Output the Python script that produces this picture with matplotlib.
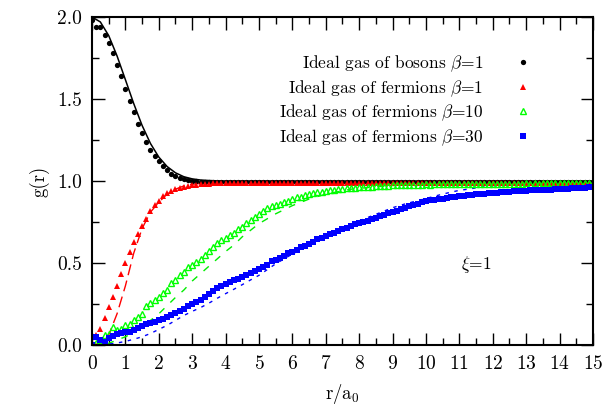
import numpy as np
import matplotlib
matplotlib.use("Agg")
import matplotlib.pyplot as plt
from matplotlib.ticker import MultipleLocator, FormatStrFormatter

plt.rcParams['font.family'] = 'cmr10'
plt.rcParams['mathtext.fontset'] = 'cm'
plt.rcParams['axes.formatter.use_mathtext'] = True

# simulation points, r/a0 = 0, 0.125, ..., 15
r_pts = np.arange(121) * 0.125

bosons_b1 = [
    1.98, 1.94, 1.94, 1.89, 1.84, 1.78, 1.71, 1.64, 1.56, 1.49, 1.42, 1.35,
    1.29, 1.24, 1.19, 1.15, 1.12, 1.09, 1.065, 1.045, 1.03, 1.02, 1.01, 1.005, 1.0,
    0.998, 0.996, 0.995, 0.996, 0.994, 0.995, 0.996, 0.995,
    0.994, 0.996, 0.995, 0.994, 0.996, 0.995, 0.994, 0.995,
    0.996, 0.995, 0.994, 0.995, 0.996, 0.994, 0.995, 0.996,
    0.995, 0.994, 0.996, 0.995, 0.995, 0.994, 0.996, 0.995,
    0.994, 0.995, 0.996, 0.995, 0.994, 0.996, 0.995, 0.994,
    0.995, 0.996, 0.994, 0.995, 0.996, 0.995, 0.994, 0.995,
    0.996, 0.995, 0.994, 0.996, 0.995, 0.994, 0.995, 0.996,
    0.995, 0.994, 0.995, 0.996, 0.995, 0.994, 0.996, 0.995,
    0.994, 0.995, 0.996, 0.995, 0.994, 0.995, 0.996, 0.995,
    0.996, 0.994, 0.995, 0.996, 0.995, 0.994, 0.995, 0.996,
    0.995, 0.996, 0.994, 0.995, 0.996, 0.995, 0.994, 0.995,
    0.996, 0.995, 0.994, 0.995, 0.996, 0.995, 0.995, 0.996,
]

fermions_b1 = [
    0.0, 0.06, 0.10, 0.165, 0.23, 0.29, 0.36, 0.43, 0.50, 0.57, 0.63, 0.675,
    0.725, 0.77, 0.815, 0.855, 0.88, 0.91, 0.925, 0.94, 0.95, 0.955, 0.965,
    0.97, 0.975, 0.978, 0.98,
    0.982, 0.984, 0.985, 0.986, 0.987, 0.986, 0.987, 0.988,
    0.987, 0.988, 0.987, 0.988, 0.989, 0.988, 0.987, 0.988,
    0.989, 0.988, 0.987, 0.988, 0.989, 0.988, 0.988, 0.987,
    0.988, 0.989, 0.988, 0.987, 0.988, 0.989, 0.988, 0.987,
    0.988, 0.988, 0.989, 0.988, 0.987, 0.988, 0.989, 0.988,
    0.987, 0.988, 0.989, 0.988, 0.988, 0.987, 0.988, 0.989,
    0.988, 0.987, 0.988, 0.989, 0.988, 0.987, 0.988, 0.988,
    0.989, 0.988, 0.987, 0.988, 0.989, 0.988, 0.987, 0.988,
    0.988, 0.989, 0.988, 0.987, 0.988, 0.989, 0.988, 0.987,
    0.988, 0.988, 0.989, 0.988, 0.987, 0.988, 0.989, 0.988,
    0.987, 0.988, 0.989, 0.988, 0.988, 0.987, 0.988, 0.989,
    0.988, 0.987, 0.988, 0.989, 0.988, 0.988,
]

fermions_b10 = [
    0.0, 0.01, 0.03, 0.06, 0.07, 0.11, 0.09, 0.10, 0.12, 0.13, 0.15, 0.17,
    0.19, 0.235, 0.255, 0.275, 0.295, 0.315, 0.335, 0.375, 0.395, 0.425,
    0.447, 0.475, 0.49, 0.505, 0.525, 0.55, 0.575, 0.60, 0.62, 0.64, 0.655,
    0.67, 0.685, 0.705, 0.72, 0.745, 0.76, 0.78, 0.80, 0.815, 0.835, 0.845,
    0.855, 0.86, 0.87, 0.88, 0.89, 0.90, 0.905, 0.912, 0.92, 0.925, 0.93,
    0.934, 0.94, 0.943, 0.946, 0.95, 0.953, 0.955, 0.957, 0.96, 0.962, 0.963,
    0.965, 0.966, 0.968, 0.97, 0.97, 0.972, 0.974, 0.975,
    0.976, 0.975, 0.977, 0.978, 0.977, 0.978, 0.979, 0.978,
    0.979, 0.98, 0.979, 0.98, 0.981, 0.98, 0.981, 0.982,
    0.981, 0.982, 0.981, 0.982, 0.983, 0.982, 0.983, 0.982,
    0.983, 0.984, 0.983, 0.984, 0.983, 0.984, 0.985, 0.984,
    0.985, 0.984, 0.985, 0.986, 0.985, 0.986, 0.985, 0.986,
    0.986, 0.987, 0.986, 0.987, 0.986, 0.987, 0.987,
]

fermions_b30 = [
    0.0, 0.05, 0.03, 0.02, 0.04, 0.055, 0.065, 0.075, 0.078, 0.082, 0.093,
    0.105, 0.113, 0.127, 0.135, 0.142, 0.15, 0.16, 0.172, 0.183, 0.195, 0.208,
    0.222, 0.235, 0.25, 0.262, 0.275, 0.29, 0.31, 0.33, 0.345, 0.36, 0.37,
    0.385, 0.395, 0.405, 0.415, 0.427, 0.44, 0.45, 0.465, 0.477, 0.49, 0.51,
    0.52, 0.528, 0.542, 0.559, 0.57, 0.582, 0.595, 0.605, 0.615, 0.63, 0.645,
    0.655, 0.665, 0.675, 0.685, 0.695, 0.705, 0.715, 0.725, 0.735, 0.742,
    0.75, 0.758, 0.766, 0.775, 0.785, 0.795, 0.802, 0.81, 0.82, 0.828, 0.835,
    0.845, 0.855, 0.862, 0.87, 0.876, 0.882, 0.886, 0.89, 0.893, 0.897, 0.9,
    0.904, 0.907, 0.91, 0.913, 0.916, 0.918, 0.92, 0.922, 0.924, 0.926, 0.928,
    0.93, 0.932, 0.934, 0.936, 0.938, 0.94, 0.942, 0.943, 0.944, 0.945, 0.946,
    0.947, 0.948, 0.949, 0.95, 0.952, 0.954, 0.955, 0.957, 0.958, 0.96, 0.961,
    0.962,
]

# analytic curves, r/a0 = 0, 0.25, ..., 15
r_line = np.arange(61) * 0.25

line_bosons = [
    2.0, 1.970, 1.887, 1.763, 1.618, 1.472, 1.339, 1.229, 1.146, 1.088, 1.050,
    1.026, 1.013, 1.006, 1.003, 1.001,
    1.0, 1.0, 1.0, 1.0, 1.0, 1.0, 1.0, 1.0, 1.0, 1.0, 1.0, 1.0, 1.0, 1.0, 1.0,
    1.0, 1.0, 1.0, 1.0, 1.0, 1.0, 1.0, 1.0, 1.0, 1.0, 1.0, 1.0, 1.0, 1.0, 1.0,
    1.0, 1.0, 1.0, 1.0, 1.0, 1.0, 1.0, 1.0, 1.0, 1.0, 1.0, 1.0, 1.0, 1.0, 1.0,
]

line_b1 = [
    0.0, 0.01, 0.06, 0.19, 0.36, 0.56, 0.71, 0.81, 0.87, 0.92, 0.95, 0.97,
    0.98, 0.985, 0.99,
    0.99, 0.99, 0.99, 0.99, 0.99, 0.99, 0.99, 0.99, 0.99, 0.99, 0.99, 0.99,
    0.99, 0.99, 0.99, 0.99, 0.99, 0.99, 0.99, 0.99, 0.99, 0.99, 0.99, 0.99,
    0.99, 0.99, 0.99, 0.99, 0.99, 0.99, 0.99, 0.99, 0.99, 0.99, 0.99, 0.99,
    0.99, 0.99, 0.99, 0.99, 0.99, 0.99, 0.99, 0.99, 0.99, 0.99,
]

line_b10 = [
    0.0, 0.0, 0.01, 0.03, 0.05, 0.075, 0.11, 0.15, 0.19, 0.24,
    0.29, 0.335, 0.39, 0.435, 0.48, 0.525, 0.57, 0.61, 0.66, 0.70,
    0.74, 0.77, 0.80, 0.825, 0.85, 0.87, 0.89, 0.905, 0.92, 0.93,
    0.94, 0.95, 0.955, 0.96, 0.965, 0.968, 0.972, 0.975, 0.978, 0.98,
    0.982, 0.984, 0.985, 0.986, 0.987, 0.988, 0.989, 0.989, 0.99, 0.99,
    0.99, 0.99, 0.99, 0.99, 0.99, 0.99, 0.99, 0.99, 0.99, 0.99, 0.99,
]

line_b30 = [
    0.0, 0.0, 0.005, 0.012, 0.022, 0.035, 0.05, 0.07, 0.095, 0.12,
    0.15, 0.18, 0.205, 0.228, 0.255, 0.285, 0.313, 0.34, 0.368, 0.397,
    0.425, 0.46, 0.495, 0.525, 0.555, 0.58, 0.605, 0.635, 0.66, 0.685,
    0.71, 0.735, 0.757, 0.777, 0.797, 0.817, 0.837, 0.853, 0.867, 0.88,
    0.893, 0.907, 0.92, 0.932, 0.943, 0.95, 0.958, 0.965, 0.971, 0.975,
    0.979, 0.983, 0.986, 0.988, 0.99, 0.991, 0.992, 0.993, 0.993, 0.994,
    0.994,
]

labels = [r'Ideal gas of bosons $\beta$=1',
          r'Ideal gas of fermions $\beta$=1',
          r'Ideal gas of fermions $\beta$=10',
          r'Ideal gas of fermions $\beta$=30']

fs = 12.5
fig = plt.figure(figsize=(6.14, 4.09), dpi=100)
ax = fig.add_axes([0.1498, 0.1565, 0.816, 0.8019])

# theory curves
ax.plot(r_line, line_bosons, color='black', lw=1.1)
ax.plot(r_line, line_b1, color='red', lw=1.0, dashes=(8, 4))
ax.plot(r_line, line_b10, color='#00ee00', lw=1.0, dashes=(5, 6))
ax.plot(r_line, line_b30, color='blue', lw=1.0, dashes=(2.5, 4))

# simulation data
ax.plot(r_pts, bosons_b1, 'o', color='black', ms=3.8, mew=0, label=labels[0])
ax.plot(r_pts, fermions_b1, '^', color='red', ms=4.0, mew=0, label=labels[1])
ax.plot(r_pts, fermions_b10, '^', color='#00ff00', mfc='none', ms=4.4, mew=1.0,
        label=labels[2])
ax.plot(r_pts, fermions_b30, 's', color='blue', ms=4.6, mew=0, label=labels[3])

ax.set_xlim(0, 15)
ax.set_ylim(0, 2)
ax.xaxis.set_major_locator(MultipleLocator(1))
ax.xaxis.set_minor_locator(MultipleLocator(0.5))
ax.yaxis.set_major_locator(MultipleLocator(0.5))
ax.yaxis.set_minor_locator(MultipleLocator(0.25))
ax.yaxis.set_major_formatter(FormatStrFormatter('%.1f'))
ax.tick_params(which='both', direction='in', top=True, right=True,
               labelsize=14, width=1.0)
ax.tick_params(which='major', length=9, pad=7)
ax.tick_params(which='minor', length=5)
for s in ax.spines.values():
    s.set_linewidth(1.5)

ax.set_xlabel(r'r/a$_0$', fontsize=13.5, labelpad=7)
ax.set_ylabel('g(r)', fontsize=13.5, labelpad=6)

ax.text(11.5, 0.49, r'$\xi$=1', fontsize=fs, ha='center', va='center')

leg = ax.legend(loc='upper right', bbox_to_anchor=(0.895, 0.888),
                frameon=False, markerfirst=False, fontsize=fs,
                handlelength=2.0, handletextpad=1.3, labelspacing=0.23,
                borderpad=0, borderaxespad=0)

fig.savefig('out.png', dpi=100)
